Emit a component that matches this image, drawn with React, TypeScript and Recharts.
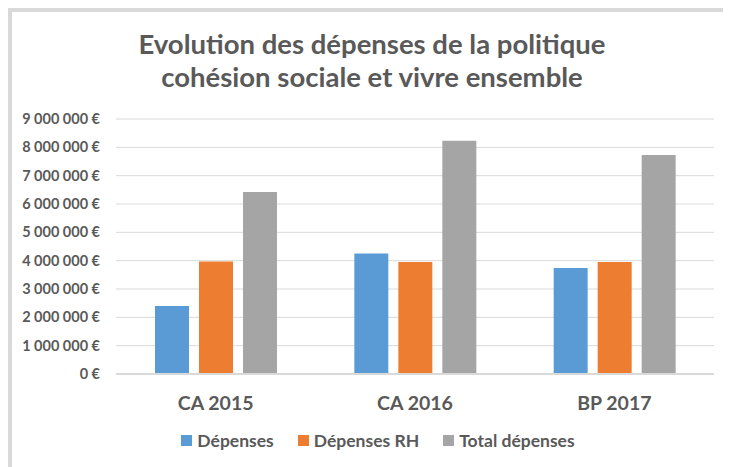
import React from 'react';
import {
  BarChart,
  Bar,
  XAxis,
  YAxis,
  CartesianGrid,
  Legend,
} from 'recharts';

const categories = ['CA 2015', 'CA 2016', 'BP 2017'];
const depenses = [2400000, 4250000, 3740000];
const depensesRH = [3970000, 3950000, 3950000];
const totalDepenses = [6420000, 8230000, 7730000];
const yTicks = [0, 1000000, 2000000, 3000000, 4000000, 5000000, 6000000, 7000000, 8000000, 9000000];

const titleLines = [
  'Evolution des dépenses de la politique',
  'cohésion sociale et vivre ensemble',
];

const series = [
  { key: 'depenses', name: 'Dépenses', color: '#5B9BD5' },
  { key: 'depensesRH', name: 'Dépenses RH', color: '#ED7D31' },
  { key: 'total', name: 'Total dépenses', color: '#A5A5A5' },
];

const data = categories.map((c, i) => ({
  name: c,
  depenses: depenses[i],
  depensesRH: depensesRH[i],
  total: totalDepenses[i],
}));

const FONT = 'Lato, "Open Sans", sans-serif';
const TEXT = '#595959';

// thousands separated by spaces, euro sign after
function formatEuro(v: number) {
  return v.toString().replace(/\B(?=(\d{3})+(?!\d))/g, ' ') + ' €';
}

function CustomLegend() {
  return (
    <div
      style={{
        display: 'flex',
        justifyContent: 'center',
        gap: 24,
        fontFamily: FONT,
        fontWeight: 700,
        fontSize: 17.5,
        color: TEXT,
      }}
    >
      {series.map((s) => (
        <div key={s.key} style={{ display: 'flex', alignItems: 'center' }}>
          <span
            style={{
              width: 11,
              height: 11,
              background: s.color,
              display: 'inline-block',
              marginRight: 5,
            }}
          />
          {s.name}
        </div>
      ))}
    </div>
  );
}

export default function App() {
  return (
    <div style={{ position: 'relative', width: 723, height: 459, overflow: 'hidden' }}>
      {/* chart frame */}
      <div
        style={{
          position: 'absolute',
          left: 0,
          top: 0,
          width: 740,
          height: 480,
          borderTop: '4px solid #d9d9d9',
          borderLeft: '4px solid #d9d9d9',
          background: '#fff',
        }}
      />
      {titleLines.map((t, i) => (
        <div
          key={i}
          style={{
            position: 'absolute',
            left: 0,
            width: 728,
            top: 20 + i * 33,
            textAlign: 'center',
            fontFamily: FONT,
            fontWeight: 700,
            fontSize: 27.5,
            lineHeight: '32px',
            color: TEXT,
          }}
        >
          {t}
        </div>
      ))}
      <div style={{ position: 'absolute', left: 0, top: 0 }}>
        <BarChart
          width={723}
          height={459}
          data={data}
          margin={{ top: 111, right: 17, left: 8, bottom: 42 }}
          barCategoryGap="19.5%"
          barGap={10}
        >
          <CartesianGrid vertical={false} stroke="#d9d9d9" strokeWidth={1} />
          <XAxis
            dataKey="name"
            height={30}
            axisLine={{ stroke: '#d9d9d9', strokeWidth: 2 }}
            tickLine={false}
            tickSize={0}
            tickMargin={22}
            tick={{ fill: TEXT, fontSize: 19.5, fontWeight: 700, fontFamily: FONT }}
          />
          <YAxis
            width={100}
            domain={[0, 9000000]}
            ticks={yTicks}
            interval={0}
            axisLine={false}
            tickLine={false}
            tickSize={0}
            tickMargin={16}
            tickFormatter={formatEuro}
            tick={{ fill: TEXT, fontSize: 14.5, fontWeight: 700, fontFamily: FONT }}
          />
          <Legend
            content={<CustomLegend />}
            wrapperStyle={{ position: 'absolute', top: 422, left: 0, width: 740 }}
          />
          {series.map((s) => (
            <Bar
              key={s.key}
              dataKey={s.key}
              name={s.name}
              fill={s.color}
              barSize={34}
              isAnimationActive={false}
            />
          ))}
        </BarChart>
      </div>
    </div>
  );
}
